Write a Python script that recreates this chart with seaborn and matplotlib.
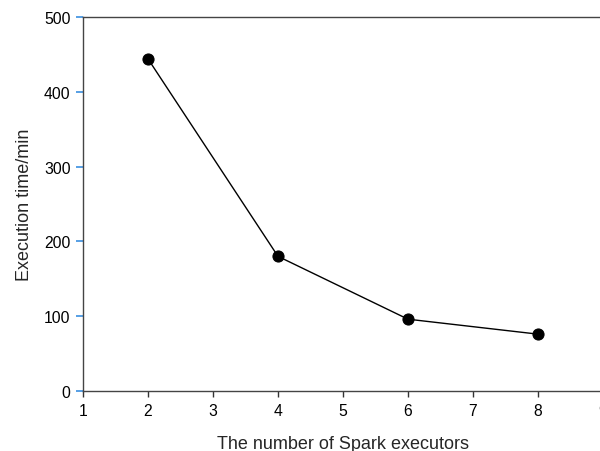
import matplotlib
matplotlib.use("Agg")
import matplotlib.pyplot as plt
import seaborn as sns
import pandas as pd

executors = [2, 4, 6, 8]
exec_time = [444, 180, 96, 76]
x_ticks = [1, 2, 3, 4, 5, 6, 7, 8, 9]
y_ticks = [0, 100, 200, 300, 400, 500]

sns.set_theme(style="white")
plt.rcParams['font.family'] = ['Liberation Sans', 'DejaVu Sans']

df = pd.DataFrame({"executors": executors, "time": exec_time})

fig = plt.figure(figsize=(6.0, 4.52), dpi=100)
ax = fig.add_axes([83/600, 1 - 392/452, (603-83)/600, (392-18)/452])
sns.lineplot(data=df, x="executors", y="time", ax=ax, color="black", linewidth=1,
             marker="o", markersize=8, markeredgecolor="black", markerfacecolor="black")
ax.set_xlim(1, 9)
ax.set_ylim(0, 500)
ax.set_xticks(x_ticks)
ax.set_yticks(y_ticks)
ax.set_xlabel("The number of Spark executors", fontsize=13, labelpad=12)
ax.set_ylabel("Execution time/min", fontsize=13, labelpad=8)
ax.tick_params(axis="x", direction="out", length=4, width=1, color="#333333", labelsize=11.3, pad=5, bottom=True)
ax.tick_params(axis="y", direction="out", length=5, width=1.2, color="#3a8fe0", labelsize=11.3, pad=4, left=True)
for s in ["left", "bottom", "top"]:
    ax.spines[s].set_color("#444444")
    ax.spines[s].set_linewidth(1)
ax.spines["right"].set_visible(False)
for lbl in ax.get_xticklabels() + ax.get_yticklabels():
    lbl.set_color("black")
fig.savefig("out.png", dpi=100)
